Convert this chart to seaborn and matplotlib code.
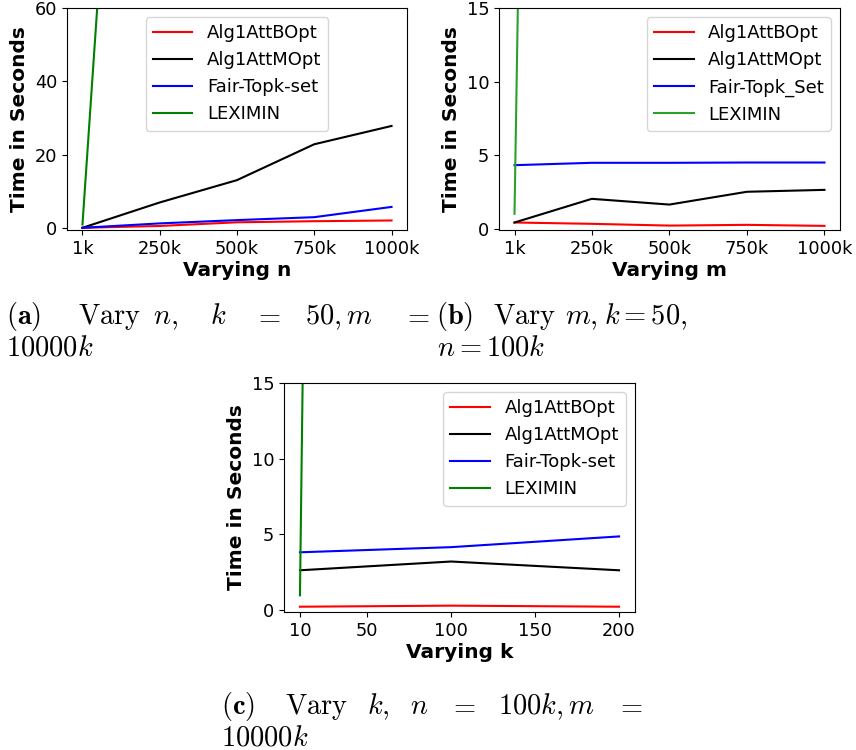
import matplotlib
matplotlib.use("Agg")
import matplotlib.pyplot as plt
import seaborn as sns
import pandas as pd

# ---------------- data ----------------
methods = ["Alg1AttBOpt", "Alg1AttMOpt", "Fair-Topk-set", "LEXIMIN"]
methods_b = ["Alg1AttBOpt", "Alg1AttMOpt", "Fair-Topk_Set", "LEXIMIN"]

# (a) vary n
n_vals = [1, 250, 500, 750, 1000]
n_ticklabels = ["1k", "250k", "500k", "750k", "1000k"]
a_bopt = [0.0, 0.5, 1.5, 1.8, 2.0]
a_mopt = [0.0, 6.9, 13.0, 22.8, 27.8]
a_fair = [0.0, 1.2, 2.1, 2.9, 5.7]
a_lex_x = [1, 250]
a_lex = [0.9, 310.0]

# (b) vary m
m_vals = [1, 250, 500, 750, 1000]
m_ticklabels = ["1k", "250k", "500k", "750k", "1000k"]
b_bopt = [0.41, 0.32, 0.20, 0.25, 0.18]
b_mopt = [0.41, 2.02, 1.63, 2.50, 2.63]
b_fair = [4.31, 4.47, 4.47, 4.49, 4.49]
b_lex_x = [1, 250]
b_lex = [1.0, 327.0]

# (c) vary k
k_vals = [10, 100, 200]
k_ticks = [10, 50, 100, 150, 200]
c_bopt = [0.20, 0.27, 0.20]
c_mopt = [2.61, 3.19, 2.61]
c_fair = [3.80, 4.14, 4.85]
c_lex_x = [10, 50]
c_lex = [0.95, 354.0]


def frame(names, xs, series, lex_x, lex):
    rows = []
    for name, ys in zip(names[:3], series):
        for x, y in zip(xs, ys):
            rows.append((name, x, y))
    for x, y in zip(lex_x, lex):
        rows.append((names[3], x, y))
    return pd.DataFrame(rows, columns=["method", "x", "y"])


df_a = frame(methods, n_vals, [a_bopt, a_mopt, a_fair], a_lex_x, a_lex)
df_b = frame(methods_b, m_vals, [b_bopt, b_mopt, b_fair], b_lex_x, b_lex)
df_c = frame(methods, k_vals, [c_bopt, c_mopt, c_fair], c_lex_x, c_lex)

plt.rcParams["mathtext.fontset"] = "cm"
plt.rcParams["font.family"] = ["DejaVu Sans"]

W, H = 856, 750
fig = plt.figure(figsize=(W / 100, H / 100), dpi=100)


def box(l, t, r, b):
    return [l / W, 1 - b / H, (r - l) / W, (b - t) / H]


ax_a = fig.add_axes(box(67, 8, 407, 230))
ax_b = fig.add_axes(box(499, 8, 840, 230))
ax_c = fig.add_axes(box(284, 383, 635, 612))

pal = {"Alg1AttBOpt": "red", "Alg1AttMOpt": "black", "Fair-Topk-set": "blue",
       "Fair-Topk_Set": "blue", "LEXIMIN": "green"}
pal_b = dict(pal)
pal_b["LEXIMIN"] = "tab:green"


def draw(ax, df, names, palette, ticks, ticklabels, ylim, yticks, xlabel, loc):
    sns.lineplot(data=df, x="x", y="y", hue="method", hue_order=names,
                 palette=palette, estimator=None, sort=False, linewidth=1.5, ax=ax)
    ax.set_xticks(ticks)
    ax.set_xticklabels(ticklabels)
    ax.set_ylim(*ylim)
    ax.set_yticks(yticks)
    ax.tick_params(labelsize=12.8)
    ax.set_xlabel(xlabel, fontsize=14.5, fontweight="bold", labelpad=2)
    ax.set_ylabel("Time in Seconds", fontsize=14.5, fontweight="bold")
    h, l = ax.get_legend_handles_labels()
    ax.legend(h, l, loc=loc, fontsize=13, handlelength=2.2)


draw(ax_a, df_a, methods, pal, n_vals, n_ticklabels, (-0.6, 60), [0, 20, 40, 60],
     "Varying n", "upper center")
ax_a.set_xlim(-49, 1050)
draw(ax_b, df_b, methods_b, pal_b, m_vals, m_ticklabels, (-0.1, 15), [0, 5, 10, 15],
     "Varying m", "upper right")
ax_b.set_xlim(-49, 1050)
draw(ax_c, df_c, methods, pal, k_ticks, [str(k) for k in k_ticks], (-0.15, 15),
     [0, 5, 10, 15], "Varying k", "upper right")
ax_c.set_xlim(0.5, 209.5)

CAP = 20.5


def cap(x, y, s):
    fig.text(x / W, 1 - y / H, s, fontsize=CAP, va="baseline", ha="left")


# caption (a)
cap(6, 324, r"$\mathbf{(a)}$")
cap(78, 324, r"$\mathrm{Vary}$")
cap(153, 324, r"$n,$")
cap(210, 324, r"$k$")
cap(254, 324, r"$=$")
cap(305, 324, r"$50, m$")
cap(403, 324, r"$=$")
cap(6, 355, r"$10000k$")

# caption (b)
cap(436, 324, r"$\mathbf{(b)}$")
cap(493, 324, r"$\mathrm{Vary}$")
cap(565, 324, r"$m,$")
cap(604, 324, r"$k=50,$")
cap(437, 355, r"$n=100k$")

# caption (c)
cap(221, 714, r"$\mathbf{(c)}$")
cap(285, 714, r"$\mathrm{Vary}$")
cap(367, 714, r"$k,$")
cap(410, 714, r"$n$")
cap(449, 714, r"$=$")
cap(498, 714, r"$100k, m$")
cap(616, 714, r"$=$")
cap(221, 745, r"$10000k$")

fig.savefig("out.png", dpi=100)
